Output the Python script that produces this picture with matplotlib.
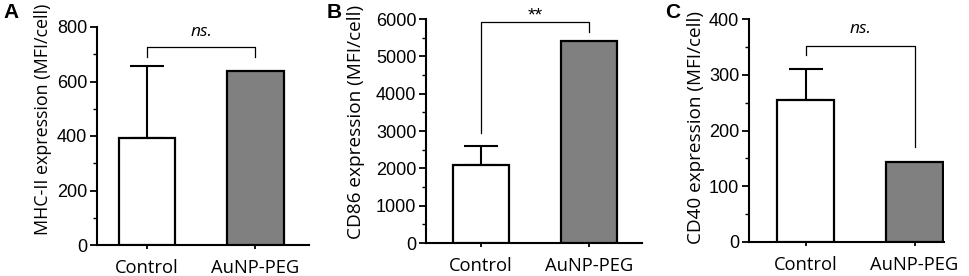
import numpy as np
import matplotlib.pyplot as plt

groups = ['Control', 'AuNP-PEG']
panels = ['A', 'B', 'C']
ylabels = ['MHC-II expression (MFI/cell)', 'CD86 expression (MFI/cell)', 'CD40 expression (MFI/cell)']
means = [[391, 637], [2098, 5420], [254, 143]]
err_top = [[658, 0], [2607, 0], [310, 0]]
ymax = [800, 6000, 400]
ystep = [200, 1000, 100]
sig = ['ns.', '**', 'ns.']
# bracket: top y, left leg end, right leg end, text y
brackets = [[727, 690, 690, 782], [5920, 2946, 5643, 6080], [352, 336, 171, 382]]

W, H = 969, 276
fig = plt.figure(figsize=(W / 100, H / 100), dpi=100)

# axes boxes in pixels: left, right, top, bottom
boxes = [(97, 309, 27, 245), (426, 642, 19, 243), (749, 944, 19, 242)]
xlims = [(-0.463, 1.495), (-0.505, 1.486), (-0.52, 1.27)]
letter_x = [3, 327, 665]
ylabel_x = [52, 365, 705]
ylabel_yc = [119, 122, 127]
ylabel_fs = [12.9, 13.7, 13.6]

lab_font = 'Open Sans'
num_font = 'Liberation Sans'

for i in range(3):
    l, r, t, b = boxes[i]
    ax = fig.add_axes([l / W, 1 - b / H, (r - l) / W, (b - t) / H])
    x = np.arange(2)
    ax.bar(x, means[i], width=0.52, color=['white', '#808080'], edgecolor='black', linewidth=1.6, zorder=3)
    e = np.array(err_top[i]) - np.array(means[i])
    ax.errorbar(x[0], means[i][0], yerr=[[0], [e[0]]], fmt='none', ecolor='black',
                elinewidth=1.5, capsize=12, capthick=1.5, zorder=2)
    ax.set_xlim(*xlims[i])
    ax.set_ylim(0, ymax[i])
    ax.set_yticks(np.arange(0, ymax[i] + 1, ystep[i]))
    ax.set_yticks(np.arange(ystep[i] / 2, ymax[i], ystep[i]), minor=True)
    ax.set_xticks(x)
    ax.set_xticklabels(groups, fontsize=13.2, family=lab_font)
    for lab in ax.get_yticklabels():
        lab.set_fontfamily(num_font)
        lab.set_fontsize(13)
    ax.tick_params(axis='both', which='major', direction='out', length=5, width=1.3, pad=2)
    ax.tick_params(axis='x', which='major', length=3, pad=7)
    ax.tick_params(axis='y', which='minor', direction='out', length=3, width=1.0)
    for s in ['top', 'right']:
        ax.spines[s].set_visible(False)
    for s in ['left', 'bottom']:
        ax.spines[s].set_linewidth(1.5)
    ax.set_ylabel(ylabels[i], fontsize=ylabel_fs[i], family=lab_font)
    ax.yaxis.set_label_coords((ylabel_x[i] - l) / (r - l), (b - ylabel_yc[i]) / (b - t))

    bt, bl, br, ty = brackets[i]
    ax.plot([0, 0, 1, 1], [bl, bt, bt, br], color='black', lw=0.9, clip_on=False)
    if sig[i] == '**':
        ax.text(0.5, ty, sig[i], ha='center', va='center', fontsize=14,
                family=num_font, clip_on=False)
    else:
        ax.text(0.5, ty, sig[i], ha='center', va='center', fontsize=12.5,
                family=lab_font, style='italic', clip_on=False)

    fig.text(letter_x[i] / W, 1 - 12 / H, panels[i], fontsize=15, fontweight='bold',
             family=num_font, ha='left', va='center')

fig.savefig('out.png', dpi=100)
